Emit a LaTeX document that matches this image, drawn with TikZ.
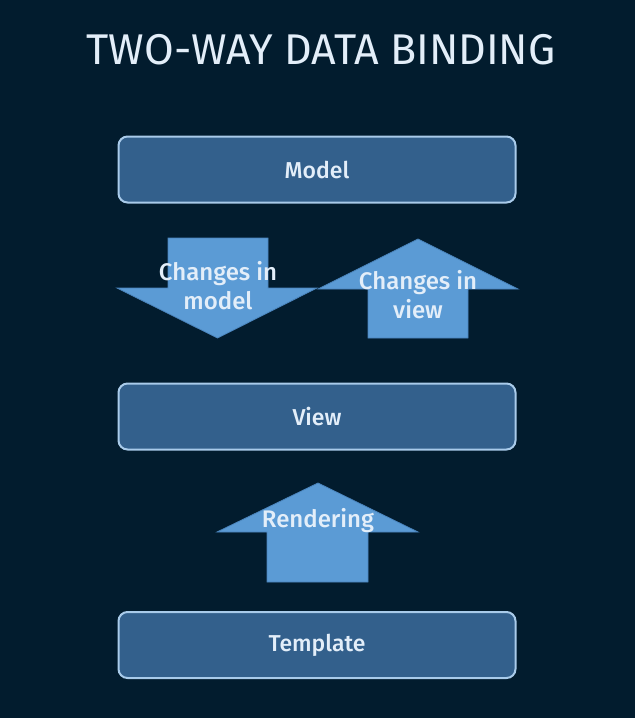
\documentclass[tikz,border=0pt]{standalone}
\usepackage{fontspec}
\setmainfont{Fira Sans}[UprightFont={* Medium}]
\newfontfamily\titlefont{Fira Sans}
\definecolor{bgnavy}{HTML}{021C2E}
\definecolor{boxfill}{HTML}{33608C}
\definecolor{boxline}{HTML}{A9CBEA}
\definecolor{arrowfill}{HTML}{5B9BD5}
\definecolor{arrowline}{HTML}{4A84BC}
\definecolor{labeltext}{HTML}{E3EEF9}
\begin{document}
\begin{tikzpicture}[x=1pt,y=-1pt,
  layerbox/.style={draw=boxline,line width=2pt,fill=boxfill,rounded corners=9pt,
    minimum width=397pt,minimum height=66pt,inner sep=0pt,
    text=labeltext,font=\fontsize{23}{26}\selectfont},
  blockarrow/.style={fill=arrowfill,draw=arrowline,line width=0.8pt},
  arrowlabel/.style={text=labeltext,font=\fontsize{24}{29}\selectfont,align=center,inner sep=0pt}]
  % page and background
  \fill[bgnavy] (0,0) rectangle (635,718);
  \useasboundingbox (0,0) rectangle (635,718);
  % title
  \node[text=labeltext,font=\titlefont\fontsize{43}{46}\selectfont] (title) at (321,50) {TWO-WAY DATA BINDING};
  % layers
  \node[layerbox] (model) at (317,169.5) {Model};
  \node[layerbox] (view) at (317,416.5) {View};
  \node[layerbox] (template) at (317,645) {Template};
  % model -> view
  \draw[blockarrow] (168,238) -- (268,238) -- (268,288) -- (317,288) -- (217.5,338)
    -- (117,288) -- (168,288) -- cycle;
  % view -> model
  \draw[blockarrow] (418,239) -- (518,289) -- (468,289) -- (468,338) -- (368,338)
    -- (368,289) -- (318,289) -- cycle;
  % template -> view
  \draw[blockarrow] (318,483) -- (418,532) -- (368,532) -- (368,582) -- (267,582)
    -- (267,532) -- (217,532) -- cycle;
  % arrow labels
  \node[arrowlabel] (cm) at (218,286) {Changes in\\model};
  \node[arrowlabel] (cv) at (418,295) {Changes in\\view};
  \node[arrowlabel] (rd) at (318,521) {Rendering};
\end{tikzpicture}
\end{document}
